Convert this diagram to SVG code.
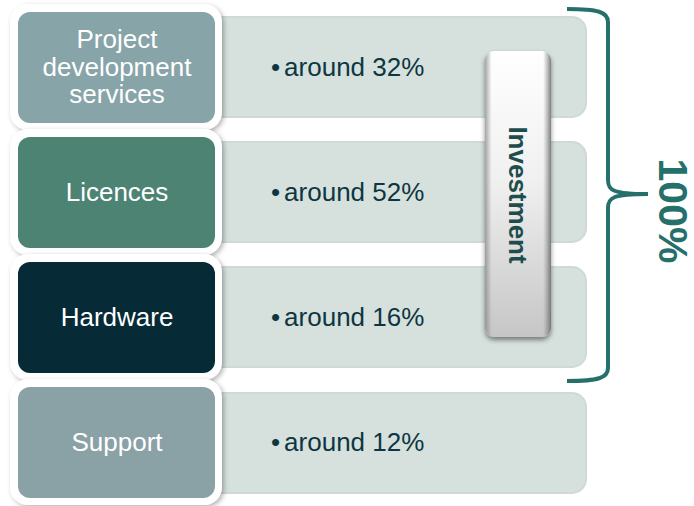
<svg xmlns="http://www.w3.org/2000/svg" width="694" height="506" viewBox="0 0 694 506">
<defs>
<filter id="sh" x="-10%" y="-10%" width="125%" height="125%">
<feDropShadow dx="2" dy="2" stdDeviation="2.5" flood-color="#000" flood-opacity="0.3"/>
</filter>
<filter id="sh2" x="-30%" y="-10%" width="160%" height="125%">
<feDropShadow dx="0" dy="3" stdDeviation="2.5" flood-color="#000" flood-opacity="0.45"/>
</filter>
<linearGradient id="gv" x1="0" y1="0" x2="0" y2="1">
<stop offset="0" stop-color="#ffffff"/>
<stop offset="0.45" stop-color="#f0f0f0"/>
<stop offset="1" stop-color="#c6c6c6"/>
</linearGradient>
<linearGradient id="gh" x1="0" y1="0" x2="1" y2="0">
<stop offset="0" stop-color="#808080" stop-opacity="0.7"/>
<stop offset="0.1" stop-color="#808080" stop-opacity="0"/>
<stop offset="0.88" stop-color="#808080" stop-opacity="0"/>
<stop offset="1" stop-color="#606060" stop-opacity="0.8"/>
</linearGradient>
</defs>
<style>
.panel{fill:#d6e1de;stroke:#cddad6;stroke-width:2}
.outer{fill:#ffffff}
.lbl{font-family:"Liberation Sans",Arial,sans-serif;font-size:26px;fill:#ffffff;text-anchor:middle}
.val{font-family:"Liberation Sans",Arial,sans-serif;font-size:26px;fill:#0e3641}
.brace{fill:none;stroke:#26706b;stroke-width:4;stroke-linecap:butt}
</style>
<g id="panels">
<rect class="panel" x="200" y="17" width="386" height="100" rx="14"/>
<rect class="panel" x="200" y="142" width="386" height="100" rx="14"/>
<rect class="panel" x="200" y="267" width="386" height="100" rx="14"/>
<rect class="panel" x="200" y="393" width="386" height="100" rx="14"/>
</g>
<g id="values">
<text class="val" x="271" y="76"><tspan>•</tspan><tspan dx="4">around 32%</tspan></text>
<text class="val" x="271" y="201"><tspan>•</tspan><tspan dx="4">around 52%</tspan></text>
<text class="val" x="271" y="326"><tspan>•</tspan><tspan dx="4">around 16%</tspan></text>
<text class="val" x="271" y="451"><tspan>•</tspan><tspan dx="4">around 12%</tspan></text>
</g>
<g id="node-project">
<rect class="outer" x="10" y="4" width="212" height="126" rx="18" filter="url(#sh)"/>
<rect x="18" y="12" width="197" height="111" rx="12" fill="#87a4a9"/>
<text class="lbl" x="117" y="48">Project</text>
<text class="lbl" x="117" y="76">development</text>
<text class="lbl" x="117" y="103">services</text>
</g>
<g id="node-licences">
<rect class="outer" x="10" y="129" width="212" height="126" rx="18" filter="url(#sh)"/>
<rect x="18" y="137" width="197" height="111" rx="12" fill="#4d8373"/>
<text class="lbl" x="117" y="201">Licences</text>
</g>
<g id="node-hardware">
<rect class="outer" x="10" y="254" width="212" height="126" rx="18" filter="url(#sh)"/>
<rect x="18" y="262" width="197" height="111" rx="12" fill="#062a36"/>
<text class="lbl" x="117" y="326">Hardware</text>
</g>
<g id="node-support">
<rect class="outer" x="10" y="379" width="212" height="126" rx="18" filter="url(#sh)"/>
<rect x="18" y="387" width="197" height="111" rx="12" fill="#8aa1a6"/>
<text class="lbl" x="117" y="451">Support</text>
</g>
<g id="node-investment">
<rect x="485" y="51" width="66" height="286" rx="9" fill="url(#gv)" filter="url(#sh2)"/>
<rect x="485" y="51" width="66" height="286" rx="9" fill="url(#gh)"/>
<text transform="translate(518,195) rotate(90)" x="0" y="9.5" font-family="Liberation Sans,Arial,sans-serif" font-size="26" font-weight="bold" fill="#1e4d4b" text-anchor="middle">Investment</text>
</g>
<g id="connectors">
<path class="brace" d="M567,9 C598,9 608,12 608,22 L608,180 C608,190 612,194 648,194 C612,194 608,198 608,208 L608,368 C608,378 598,381 567,381"/>
</g>
<g id="node-total">
<text transform="translate(673,211) rotate(90)" x="0" y="14.5" font-family="Liberation Sans,Arial,sans-serif" font-size="41" font-weight="bold" fill="#26706b" text-anchor="middle">100%</text>
</g>
</svg>
